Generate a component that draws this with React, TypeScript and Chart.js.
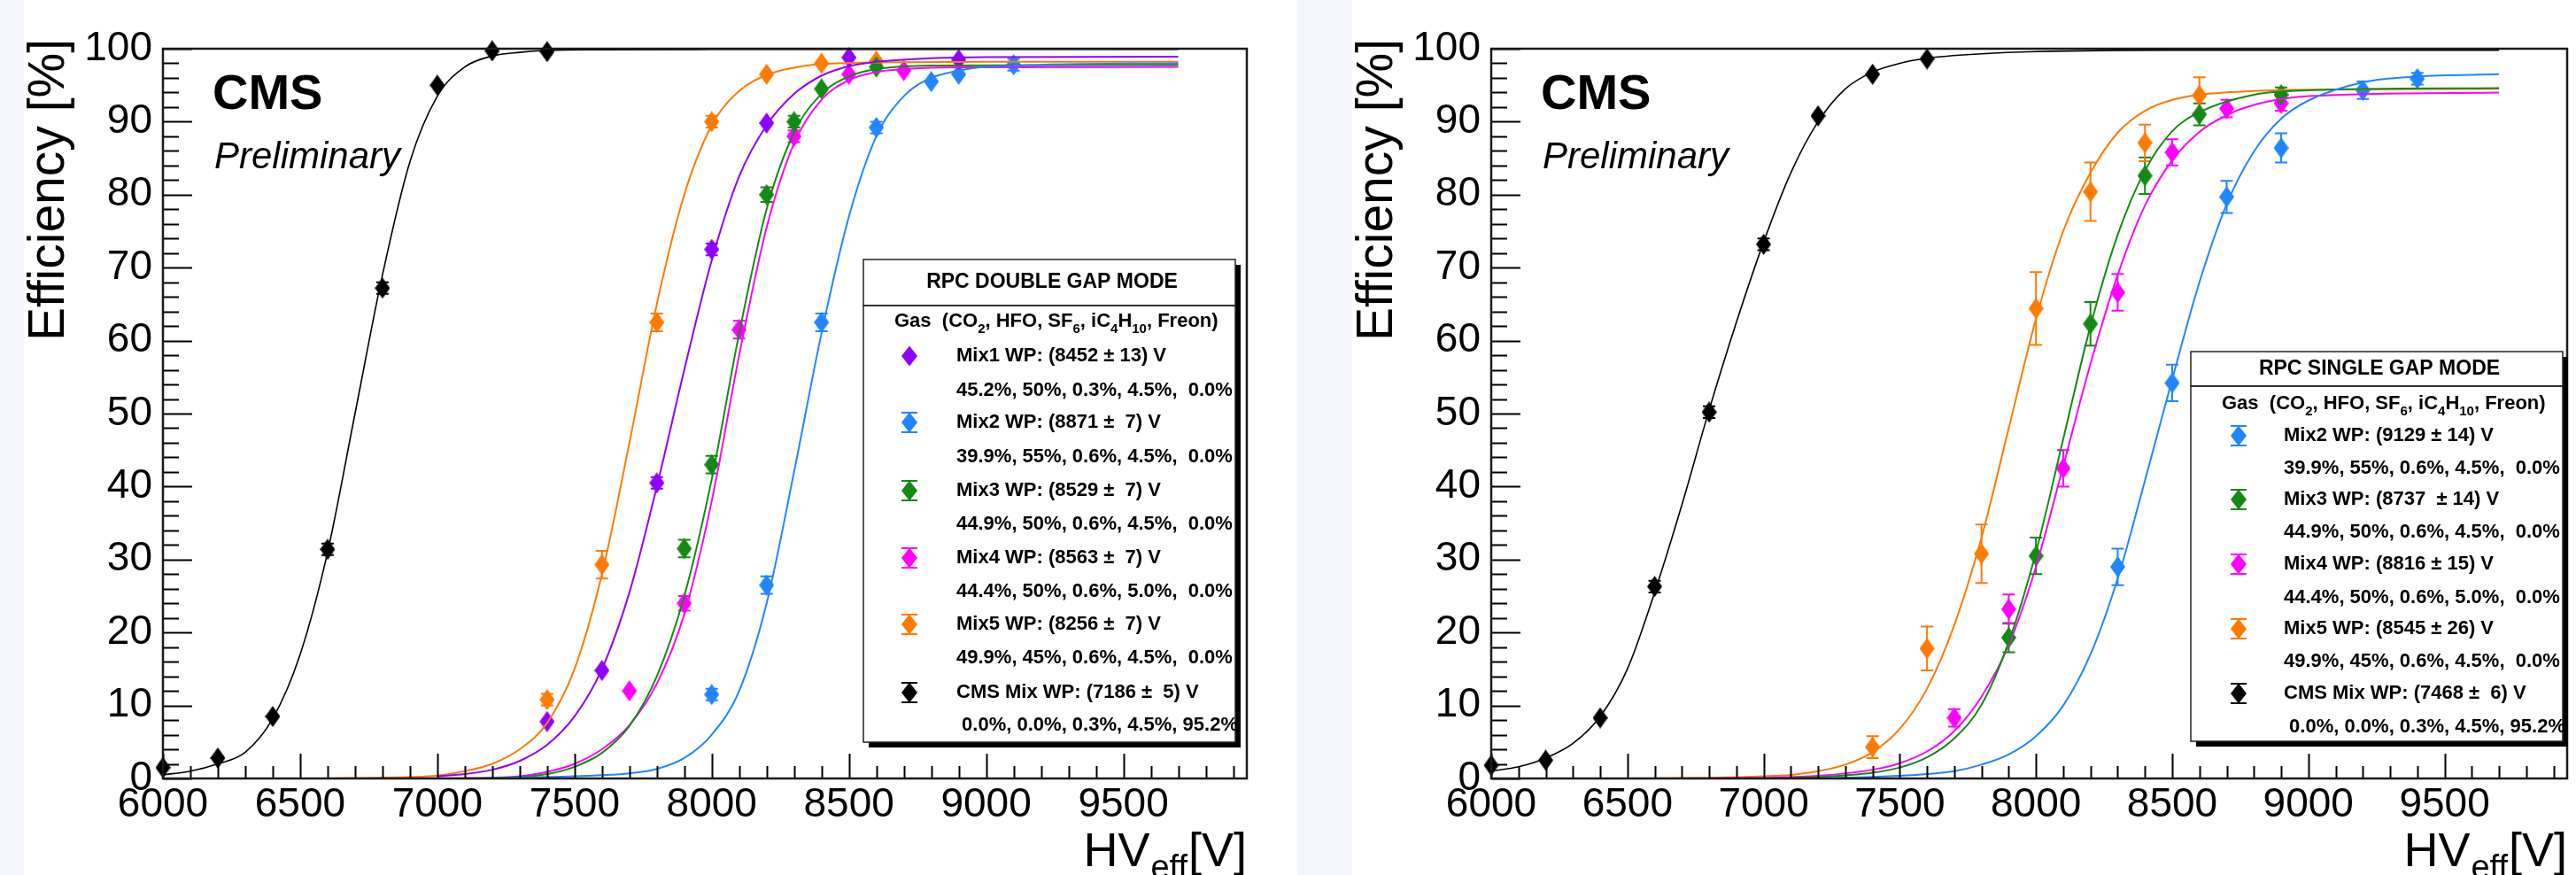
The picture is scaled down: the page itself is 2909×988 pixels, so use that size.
import React, { useEffect, useRef } from 'react';
import { Chart, registerables } from 'chart.js';

Chart.register(...registerables);

const FONT = '"Liberation Sans", Arial, Helvetica, sans-serif';

// ---------------- axes ----------------
const X_MIN = 6000;
const X_MAX = 9950;
const Y_MIN = 0;
const Y_MAX = 100;
const X_TICK_VALUES = [6000, 6500, 7000, 7500, 8000, 8500, 9000, 9500];
const Y_TICK_VALUES = [0, 10, 20, 30, 40, 50, 60, 70, 80, 90, 100];
const X_MAJOR_STEP = 500;
const X_MINOR_STEP = 100;
const Y_MAJOR_STEP = 10;
const Y_MINOR_STEP = 2;
const X_TITLE = ['HV', 'eff', '[V]'];
const Y_TITLE = 'Efficiency [%]';

// ---------------- colours ----------------
const C_MIX1 = '#8f00ff';
const C_MIX2 = '#1f86ff';
const C_MIX3 = '#138a13';
const C_MIX4 = '#ff00ff';
const C_MIX5 = '#ff7a00';
const C_CMS = '#000000';

// ================= DOUBLE GAP (left) =================
const dgMix1Hv = [7400, 7600, 7800, 8000, 8200, 8500, 8900];
const dgMix1Eff = [7.8, 14.8, 40.5, 72.5, 89.8, 98.8, 98.5];
const dgMix1Err = [0.5, 0.6, 0.8, 0.8, 0.6, 0.4, 0.4];
const dgMix1FitHv = [7000, 7100, 7200, 7300, 7400, 7500, 7600, 7700, 7800, 7900, 8000, 8100, 8200, 8300, 8400, 8500, 8600, 8800, 9000, 9700];
const dgMix1FitEff = [0.3, 0.6, 1.2, 2.4, 4.6, 8.5, 15, 25.5, 40, 56, 71, 82.5, 89.5, 93.8, 96.3, 97.6, 98.2, 98.7, 98.85, 98.9];

const dgMix2Hv = [8000, 8200, 8400, 8600, 8800, 8900, 9100];
const dgMix2Eff = [11.5, 26.5, 62.5, 89.2, 95.5, 96.5, 97.8];
const dgMix2Err = [0.8, 1.2, 1.2, 0.8, 0.6, 0.6, 0.8];
const dgMix2FitHv = [7200, 7400, 7600, 7700, 7800, 7900, 8000, 8100, 8200, 8300, 8400, 8500, 8600, 8700, 8800, 8900, 9000, 9200, 9700];
const dgMix2FitEff = [0.05, 0.2, 0.45, 0.7, 1.3, 2.8, 6, 12, 24, 42, 61, 77, 88, 93.5, 96, 97, 97.5, 97.8, 98.0];

const dgMix3Hv = [7900, 8000, 8200, 8300, 8400, 8600];
const dgMix3Eff = [31.5, 43, 80, 90, 94.5, 97.5];
const dgMix3Err = [1.2, 1.2, 1.0, 0.8, 0.6, 0.5];
const dgMix3FitHv = [7100, 7200, 7300, 7400, 7500, 7600, 7700, 7800, 7900, 8000, 8100, 8200, 8300, 8400, 8500, 8600, 8800, 9700];
const dgMix3FitEff = [0.02, 0.06, 0.2, 0.6, 1.6, 3.5, 7.2, 14, 25, 41, 61, 78, 88.5, 93.8, 96.2, 97.2, 97.7, 97.8];

const dgMix4Hv = [7700, 7900, 8100, 8300, 8500, 8700];
const dgMix4Eff = [12, 24, 61.5, 88, 96.5, 97];
const dgMix4Err = [0.6, 1.0, 1.2, 0.8, 0.5, 0.5];
const dgMix4FitHv = [6800, 7000, 7200, 7300, 7400, 7500, 7600, 7700, 7800, 7900, 8000, 8100, 8200, 8300, 8400, 8500, 8600, 8700, 8900, 9700];
const dgMix4FitEff = [0, 0.02, 0.1, 0.3, 0.9, 2.0, 4.0, 7.3, 13, 22.5, 38, 58, 75.5, 87, 93, 95.7, 96.8, 97.2, 97.45, 97.5];

const dgMix5Hv = [7400, 7600, 7800, 8000, 8200, 8400, 8600];
const dgMix5Eff = [10.8, 29.3, 62.5, 90, 96.5, 98, 98.3];
const dgMix5Err = [0.8, 1.9, 1.2, 0.8, 0.5, 0.4, 0.4];
const dgMix5FitHv = [6500, 6700, 6900, 7000, 7100, 7200, 7300, 7400, 7500, 7600, 7700, 7800, 7900, 8000, 8100, 8200, 8300, 8400, 8500, 8700, 9000, 9700];
const dgMix5FitEff = [0, 0.05, 0.2, 0.4, 1.0, 2.0, 4.0, 7.6, 15, 28, 46, 65, 80, 89.5, 94.2, 96.4, 97.4, 97.9, 98.05, 98.15, 98.2, 98.2];

const dgCmsHv = [6000, 6200, 6400, 6600, 6800, 7000, 7200, 7400];
const dgCmsEff = [1.5, 2.8, 8.5, 31.4, 67.2, 95, 99.7, 99.6];
const dgCmsErr = [0.4, 0.5, 0.6, 0.8, 0.8, 0.5, 0.3, 0.3];
const dgCmsFitHv = [6000, 6100, 6200, 6300, 6400, 6500, 6600, 6700, 6800, 6900, 7000, 7100, 7200, 7300, 7400, 7600, 8000, 9700];
const dgCmsFitEff = [0.5, 1.0, 2.0, 3.6, 8.2, 17, 31, 50, 69, 84.5, 93.5, 97.5, 99, 99.5, 99.75, 99.85, 99.9, 99.9];

const dgTitle = 'RPC DOUBLE GAP MODE';
const dgWp = ['Mix1 WP: (8452 \u00b1 13) V', 'Mix2 WP: (8871 \u00b1  7) V', 'Mix3 WP: (8529 \u00b1  7) V', 'Mix4 WP: (8563 \u00b1  7) V', 'Mix5 WP: (8256 \u00b1  7) V', 'CMS Mix WP: (7186 \u00b1  5) V'];
const dgComp = ['45.2%, 50%, 0.3%, 4.5%,  0.0%', '39.9%, 55%, 0.6%, 4.5%,  0.0%', '44.9%, 50%, 0.6%, 4.5%,  0.0%', '44.4%, 50%, 0.6%, 5.0%,  0.0%', '49.9%, 45%, 0.6%, 4.5%,  0.0%', ' 0.0%, 0.0%, 0.3%, 4.5%, 95.2%'];

// ================= SINGLE GAP (right) =================
const sgMix2Hv = [8300, 8500, 8700, 8900, 9200, 9400];
const sgMix2Eff = [29, 54.2, 79.7, 86.4, 94.3, 95.9];
const sgMix2Err = [2.5, 2.5, 2.2, 2.0, 1.2, 0.8];
const sgMix2FitHv = [7200, 7400, 7600, 7700, 7800, 7900, 8000, 8100, 8200, 8300, 8400, 8500, 8600, 8700, 8800, 8900, 9000, 9200, 9400, 9700];
const sgMix2FitEff = [0.05, 0.2, 0.6, 1.0, 1.9, 3.3, 5.8, 10, 17, 27.4, 40.8, 54.7, 68, 78.7, 85.9, 90.4, 92.9, 95.4, 96.2, 96.5];

const sgMix3Hv = [7900, 8000, 8200, 8400, 8600, 8900];
const sgMix3Eff = [19.3, 30.5, 62.3, 82.6, 91, 93.7];
const sgMix3Err = [2.0, 2.5, 3.0, 2.5, 1.5, 1.0];
const sgMix3FitHv = [7100, 7200, 7400, 7500, 7600, 7700, 7800, 7900, 8000, 8100, 8200, 8300, 8400, 8500, 8600, 8800, 9000, 9700];
const sgMix3FitEff = [0.1, 0.2, 0.8, 1.5, 2.9, 5.5, 10.1, 18.7, 31, 46.5, 62, 74.5, 83.3, 88.7, 91.3, 93.7, 94.3, 94.6];

const sgMix4Hv = [7700, 7900, 8100, 8300, 8500, 8700, 8900];
const sgMix4Eff = [8.3, 23.2, 42.5, 66.6, 85.8, 91.8, 92.5];
const sgMix4Err = [1.2, 2.0, 2.5, 2.5, 1.8, 1.2, 1.0];
const sgMix4FitHv = [6800, 7000, 7200, 7400, 7500, 7600, 7700, 7800, 7900, 8000, 8100, 8200, 8300, 8400, 8500, 8600, 8700, 8800, 9000, 9700];
const sgMix4FitEff = [0.03, 0.1, 0.35, 1.2, 2.1, 3.7, 6.5, 11.2, 18.3, 29, 42.8, 56.8, 69, 78.5, 84.7, 88.6, 90.9, 92.3, 93.5, 94.0];

const sgMix5Hv = [7400, 7600, 7800, 8000, 8200, 8400, 8600];
const sgMix5Eff = [4.3, 17.8, 30.8, 64.4, 80.4, 87.1, 93.6];
const sgMix5Err = [1.5, 3.0, 4.0, 5.0, 4.0, 2.5, 2.5];
const sgMix5FitHv = [6500, 6800, 7000, 7100, 7200, 7300, 7400, 7500, 7600, 7700, 7800, 7900, 8000, 8100, 8200, 8300, 8400, 8500, 8600, 8800, 9000, 9700];
const sgMix5FitEff = [0, 0.1, 0.3, 0.5, 1.0, 1.9, 3.6, 6.8, 12.3, 21, 33, 48, 63, 75, 83, 88.5, 91.5, 93, 93.7, 94.2, 94.4, 94.5];

const sgCmsHv = [6000, 6200, 6400, 6600, 6800, 7000, 7200, 7400, 7600];
const sgCmsEff = [1.8, 2.5, 8.3, 26.3, 50.2, 73.2, 90.8, 96.5, 98.6];
const sgCmsErr = [0.4, 0.5, 0.6, 0.8, 0.8, 0.8, 0.6, 0.5, 0.4];
const sgCmsFitHv = [6000, 6100, 6200, 6300, 6400, 6500, 6600, 6700, 6800, 6900, 7000, 7100, 7200, 7300, 7400, 7500, 7600, 7800, 8000, 8500, 9700];
const sgCmsFitEff = [1.0, 1.6, 2.8, 4.8, 8.5, 15, 25.5, 37.5, 50.5, 62.5, 73.5, 83, 90, 94.5, 96.8, 98, 98.7, 99.3, 99.6, 99.8, 99.8];

const sgTitle = 'RPC SINGLE GAP MODE';
const sgWp = ['Mix2 WP: (9129 \u00b1 14) V', 'Mix3 WP: (8737  \u00b1 14) V', 'Mix4 WP: (8816 \u00b1 15) V', 'Mix5 WP: (8545 \u00b1 26) V', 'CMS Mix WP: (7468 \u00b1  6) V'];
const sgComp = ['39.9%, 55%, 0.6%, 4.5%,  0.0%', '44.9%, 50%, 0.6%, 4.5%,  0.0%', '44.4%, 50%, 0.6%, 5.0%,  0.0%', '49.9%, 45%, 0.6%, 4.5%,  0.0%', ' 0.0%, 0.0%, 0.3%, 4.5%, 95.2%'];

const CMS_LABEL = 'CMS';
const PRELIM_LABEL = 'Preliminary';

// ---------------- helpers ----------------
type Series = { color: string; hv: number[]; eff: number[]; err: number[]; fitHv: number[]; fitEff: number[]; legendErr: boolean };

const zip = (xs: number[], ys: number[]) => xs.map((x, i) => ({ x, y: ys[i] }));

function diamondImage(color: string, w: number, h: number) {
  const c = document.createElement('canvas');
  c.width = w;
  c.height = h;
  const g = c.getContext('2d')!;
  g.fillStyle = color;
  g.beginPath();
  g.moveTo(w / 2, 0);
  g.lineTo(w, h / 2);
  g.lineTo(w / 2, h);
  g.lineTo(0, h / 2);
  g.closePath();
  g.fill();
  return c;
}

function drawDiamond(ctx: CanvasRenderingContext2D, x: number, y: number, w: number, h: number, color: string) {
  ctx.fillStyle = color;
  ctx.beginPath();
  ctx.moveTo(x, y - h / 2);
  ctx.lineTo(x + w / 2, y);
  ctx.lineTo(x, y + h / 2);
  ctx.lineTo(x - w / 2, y);
  ctx.closePath();
  ctx.fill();
}

type LegendLayout = {
  x: number; w: number; titleTop: number; titleBottom: number; bottom: number;
  titleY: number; gasY: number; gasX: number; markerX: number; textX: number;
  row1: number[]; row2: number[];
};

type PanelCfg = {
  canvasWidth: number;
  padRight: number;
  series: Series[];
  title: string;
  wp: string[];
  comp: string[];
  legend: LegendLayout;
};

function drawTextRuns(ctx: CanvasRenderingContext2D, x: number, y: number, runs: { t: string; sub?: boolean }[], size: number, subSize: number, subDy: number, weight: string) {
  let cx = x;
  for (const r of runs) {
    ctx.font = `${weight} ${r.sub ? subSize : size}px ${FONT}`;
    ctx.fillText(r.t, cx, r.sub ? y + subDy : y);
    cx += ctx.measureText(r.t).width;
  }
  return cx;
}

function makePlugin(cfg: PanelCfg) {
  return {
    id: 'rootStyle',
    beforeDatasetsDraw(chart: any) {
      // error bars
      const ctx: CanvasRenderingContext2D = chart.ctx;
      const ys = chart.scales.y;
      ctx.save();
      chart.data.datasets.forEach((ds: any, i: number) => {
        if (!ds.errors) return;
        const meta = chart.getDatasetMeta(i);
        meta.data.forEach((pt: any, j: number) => {
          const v = ds.data[j].y;
          const e = ds.errors[j];
          const top = ys.getPixelForValue(v + e);
          const bot = ys.getPixelForValue(v - e);
          ctx.strokeStyle = ds.borderColor;
          ctx.lineWidth = 2;
          ctx.beginPath();
          ctx.moveTo(pt.x, top);
          ctx.lineTo(pt.x, bot);
          if (bot - top > 12) {
            ctx.moveTo(pt.x - 7, top);
            ctx.lineTo(pt.x + 7, top);
            ctx.moveTo(pt.x - 7, bot);
            ctx.lineTo(pt.x + 7, bot);
          }
          ctx.stroke();
        });
      });
      ctx.restore();
    },
    afterDraw(chart: any) {
      const ctx: CanvasRenderingContext2D = chart.ctx;
      const a = chart.chartArea;
      const xs = chart.scales.x;
      const ys = chart.scales.y;
      ctx.save();
      // ticks
      ctx.strokeStyle = '#000';
      ctx.lineWidth = 2;
      ctx.beginPath();
      for (let v = X_MIN; v <= X_MAX; v += X_MINOR_STEP) {
        const px = Math.round(xs.getPixelForValue(v)) + 0.5;
        const len = v % X_MAJOR_STEP === 0 ? 28 : 14;
        ctx.moveTo(px, a.bottom);
        ctx.lineTo(px, a.bottom - len);
      }
      for (let v = Y_MIN; v <= Y_MAX; v += Y_MINOR_STEP) {
        const py = Math.round(ys.getPixelForValue(v)) + 0.5;
        const len = v % Y_MAJOR_STEP === 0 ? 33 : 18;
        ctx.moveTo(a.left, py);
        ctx.lineTo(a.left + len, py);
      }
      ctx.stroke();
      // frame
      ctx.strokeStyle = '#1a1a1a';
      ctx.lineWidth = 2.5;
      ctx.strokeRect(a.left, a.top, a.right - a.left, a.bottom - a.top);

      // CMS Preliminary
      ctx.fillStyle = '#000';
      ctx.textBaseline = 'alphabetic';
      ctx.textAlign = 'left';
      ctx.font = `bold 56px ${FONT}`;
      ctx.fillText(CMS_LABEL, a.left + 56, 123);
      ctx.font = `italic 42px ${FONT}`;
      ctx.fillText(PRELIM_LABEL, a.left + 58, 190);

      // Y title
      ctx.save();
      ctx.translate(45, 44);
      ctx.rotate(-Math.PI / 2);
      ctx.textAlign = 'right';
      ctx.font = `57px ${FONT}`;
      ctx.fillText(Y_TITLE, 0, 0);
      ctx.restore();

      // X title (right aligned)
      ctx.font = `54px ${FONT}`;
      const wHV = ctx.measureText(X_TITLE[0]).width;
      const wV = ctx.measureText(X_TITLE[2]).width;
      ctx.font = `38px ${FONT}`;
      const wEff = ctx.measureText(X_TITLE[1]).width;
      const xEnd = a.right;
      const base = 978;
      ctx.font = `54px ${FONT}`;
      ctx.fillText(X_TITLE[2], xEnd - wV, base);
      ctx.fillText(X_TITLE[0], xEnd - wV - wEff - 2 - wHV, base);
      ctx.font = `38px ${FONT}`;
      ctx.fillText(X_TITLE[1], xEnd - wV - wEff - 1, base + 14);

      // legend
      const L = cfg.legend;
      ctx.fillStyle = '#000';
      ctx.fillRect(L.x + 6, L.titleTop + 6, L.w, L.titleBottom - L.titleTop);
      ctx.fillRect(L.x + 6, L.titleBottom + 6, L.w, L.bottom - L.titleBottom);
      ctx.fillStyle = '#fff';
      ctx.fillRect(L.x, L.titleTop, L.w, L.bottom - L.titleTop);
      ctx.strokeStyle = '#222';
      ctx.lineWidth = 1.5;
      ctx.strokeRect(L.x, L.titleTop, L.w, L.titleBottom - L.titleTop);
      ctx.strokeRect(L.x, L.titleBottom, L.w, L.bottom - L.titleBottom);

      ctx.fillStyle = '#000';
      ctx.textBaseline = 'middle';
      ctx.textAlign = 'center';
      ctx.font = `bold 23px ${FONT}`;
      ctx.fillText(cfg.title, L.x + L.w / 2 + 3, L.titleY);

      ctx.textAlign = 'left';
      drawTextRuns(ctx, L.gasX, L.gasY, [
        { t: 'Gas  (CO' }, { t: '2', sub: true }, { t: ', HFO, SF' }, { t: '6', sub: true },
        { t: ', iC' }, { t: '4', sub: true }, { t: 'H' }, { t: '10', sub: true }, { t: ', Freon)' },
      ], 22, 15, 9, 'bold');

      cfg.series.forEach((s, i) => {
        const y1 = L.row1[i];
        const y2 = L.row2[i];
        if (s.legendErr) {
          ctx.strokeStyle = s.color;
          ctx.lineWidth = 2;
          ctx.beginPath();
          ctx.moveTo(L.markerX, y1 - 11);
          ctx.lineTo(L.markerX, y1 + 11);
          ctx.moveTo(L.markerX - 9, y1 - 11);
          ctx.lineTo(L.markerX + 9, y1 - 11);
          ctx.moveTo(L.markerX - 9, y1 + 11);
          ctx.lineTo(L.markerX + 9, y1 + 11);
          ctx.stroke();
        }
        drawDiamond(ctx, L.markerX, y1, 18, 23, s.color);
        ctx.fillStyle = '#000';
        ctx.font = `bold 22px ${FONT}`;
        ctx.fillText(cfg.wp[i], L.textX, y1);
        ctx.fillText(cfg.comp[i], L.textX, y2);
      });
      ctx.restore();
    },
  };
}

function buildChart(canvas: HTMLCanvasElement, cfg: PanelCfg) {
  const datasets: any[] = [];
  cfg.series.forEach((s) => {
    datasets.push({
      data: zip(s.fitHv, s.fitEff),
      showLine: true,
      borderColor: s.color,
      backgroundColor: s.color,
      borderWidth: s.color === C_CMS ? 1.6 : 2,
      pointRadius: 0,
      cubicInterpolationMode: 'monotone',
    });
  });
  cfg.series.forEach((s) => {
    datasets.push({
      data: zip(s.hv, s.eff),
      errors: s.err,
      showLine: false,
      borderColor: s.color,
      backgroundColor: s.color,
      pointStyle: diamondImage(s.color, 17, 24),
      pointRadius: 9,
      clip: false,
    });
  });

  return new Chart(canvas, {
    type: 'scatter',
    data: { datasets },
    options: {
      animation: false,
      responsive: false,
      maintainAspectRatio: false,
      events: [],
      layout: { padding: { top: 55, right: cfg.padRight, left: 0, bottom: 0 } },
      plugins: { legend: { display: false }, tooltip: { enabled: false } },
      scales: {
        x: {
          type: 'linear',
          min: X_MIN,
          max: X_MAX,
          grid: { display: false, drawTicks: false },
          border: { display: false },
          afterBuildTicks: (s: any) => { s.ticks = X_TICK_VALUES.map((value) => ({ value })); },
          ticks: {
            autoSkip: false,
            maxRotation: 0,
            minRotation: 0,
            padding: 3,
            color: '#000',
            font: { family: FONT, size: 46 },
            callback: (v: any) => String(v),
          },
          afterFit: (s: any) => { s.height = 109; },
        },
        y: {
          type: 'linear',
          min: Y_MIN,
          max: Y_MAX,
          grid: { display: false, drawTicks: false },
          border: { display: false },
          afterBuildTicks: (s: any) => { s.ticks = Y_TICK_VALUES.map((value) => ({ value })); },
          ticks: {
            autoSkip: false,
            padding: 12,
            color: '#000',
            font: { family: FONT, size: 46 },
            callback: (v: any) => String(v),
          },
          afterFit: (s: any) => { s.width = 157; },
        },
      },
    },
    plugins: [makePlugin(cfg)],
  } as any);
}

const dgSeries: Series[] = [
  { color: C_MIX1, hv: dgMix1Hv, eff: dgMix1Eff, err: dgMix1Err, fitHv: dgMix1FitHv, fitEff: dgMix1FitEff, legendErr: false },
  { color: C_MIX2, hv: dgMix2Hv, eff: dgMix2Eff, err: dgMix2Err, fitHv: dgMix2FitHv, fitEff: dgMix2FitEff, legendErr: true },
  { color: C_MIX3, hv: dgMix3Hv, eff: dgMix3Eff, err: dgMix3Err, fitHv: dgMix3FitHv, fitEff: dgMix3FitEff, legendErr: true },
  { color: C_MIX4, hv: dgMix4Hv, eff: dgMix4Eff, err: dgMix4Err, fitHv: dgMix4FitHv, fitEff: dgMix4FitEff, legendErr: true },
  { color: C_MIX5, hv: dgMix5Hv, eff: dgMix5Eff, err: dgMix5Err, fitHv: dgMix5FitHv, fitEff: dgMix5FitEff, legendErr: true },
  { color: C_CMS, hv: dgCmsHv, eff: dgCmsEff, err: dgCmsErr, fitHv: dgCmsFitHv, fitEff: dgCmsFitEff, legendErr: true },
];

const sgSeries: Series[] = [
  { color: C_MIX2, hv: sgMix2Hv, eff: sgMix2Eff, err: sgMix2Err, fitHv: sgMix2FitHv, fitEff: sgMix2FitEff, legendErr: true },
  { color: C_MIX3, hv: sgMix3Hv, eff: sgMix3Eff, err: sgMix3Err, fitHv: sgMix3FitHv, fitEff: sgMix3FitEff, legendErr: true },
  { color: C_MIX4, hv: sgMix4Hv, eff: sgMix4Eff, err: sgMix4Err, fitHv: sgMix4FitHv, fitEff: sgMix4FitEff, legendErr: true },
  { color: C_MIX5, hv: sgMix5Hv, eff: sgMix5Eff, err: sgMix5Err, fitHv: sgMix5FitHv, fitEff: sgMix5FitEff, legendErr: true },
  { color: C_CMS, hv: sgCmsHv, eff: sgCmsEff, err: sgCmsErr, fitHv: sgCmsFitHv, fitEff: sgCmsFitEff, legendErr: true },
];

const LEFT_W = 1438;
const RIGHT_W = 1382;

const dgCfg: PanelCfg = {
  canvasWidth: LEFT_W,
  padRight: 57,
  series: dgSeries,
  title: dgTitle,
  wp: dgWp,
  comp: dgComp,
  legend: {
    x: 948, w: 420, titleTop: 293, titleBottom: 345, bottom: 838,
    titleY: 319, gasY: 363, gasX: 983, markerX: 1000, textX: 1053,
    row1: [402, 477, 554, 630, 705, 782],
    row2: [441, 516, 592, 668, 743, 819],
  },
};

const sgCfg: PanelCfg = {
  canvasWidth: RIGHT_W,
  padRight: 1,
  series: sgSeries,
  title: sgTitle,
  wp: sgWp,
  comp: sgComp,
  legend: {
    x: 947, w: 420, titleTop: 397, titleBottom: 436, bottom: 837,
    titleY: 417, gasY: 456, gasX: 982, markerX: 1001, textX: 1052,
    row1: [492, 564, 637, 710, 783],
    row2: [529, 601, 675, 747, 821],
  },
};

export default function App() {
  const leftRef = useRef<HTMLCanvasElement>(null);
  const rightRef = useRef<HTMLCanvasElement>(null);

  useEffect(() => {
    const c1 = buildChart(leftRef.current!, dgCfg);
    const c2 = buildChart(rightRef.current!, sgCfg);
    return () => {
      c1.destroy();
      c2.destroy();
    };
  }, []);

  return (
    <div style={{ position: 'absolute', left: 0, top: 0, width: 2909, height: 988, background: '#f5f6fd', overflow: 'hidden' }}>
      <div style={{ position: 'absolute', left: 27, top: 0, width: LEFT_W, height: 988, background: '#fff' }}>
        <canvas ref={leftRef} width={LEFT_W} height={988} style={{ display: 'block', width: LEFT_W, height: 988 }} />
      </div>
      <div style={{ position: 'absolute', left: 1527, top: 0, width: RIGHT_W, height: 988, background: '#fff' }}>
        <canvas ref={rightRef} width={RIGHT_W} height={988} style={{ display: 'block', width: RIGHT_W, height: 988 }} />
      </div>
    </div>
  );
}
